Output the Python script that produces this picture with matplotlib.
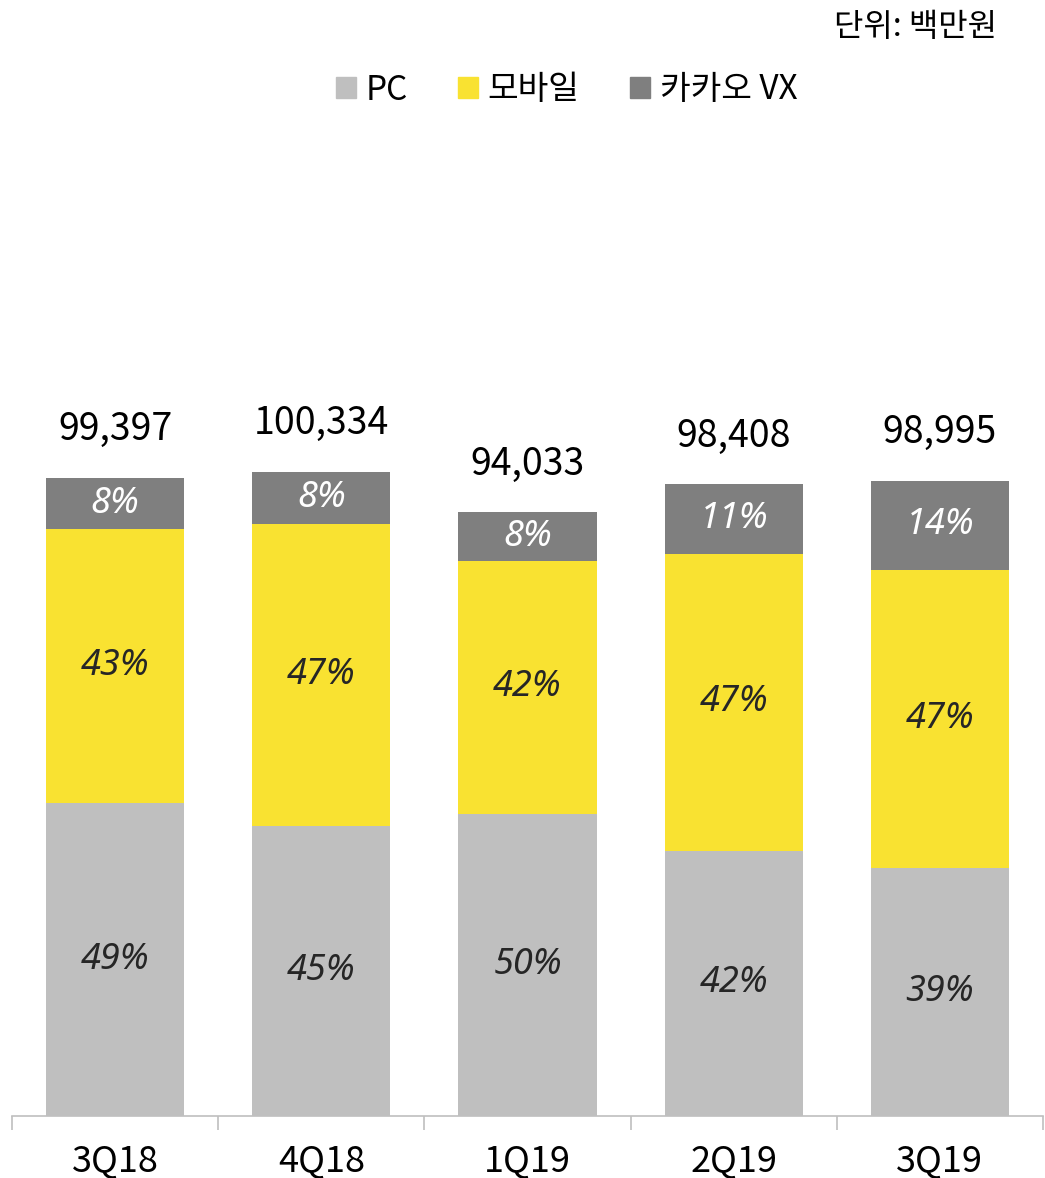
import numpy as np
import matplotlib.pyplot as plt
from matplotlib.patches import Patch

plt.rcParams['font.family'] = ['Noto Sans CJK KR', 'DejaVu Sans']

# data
quarters = ['3Q18', '4Q18', '1Q19', '2Q19', '3Q19']
totals = [99397, 100334, 94033, 98408, 98995]
pc_pct = [49, 45, 50, 42, 39]
mobile_pct = [43, 47, 42, 47, 47]
vx_pct = [8, 8, 8, 11, 14]

colors = {'PC': '#BFBFBF', '모바일': '#F9E231', '카카오 VX': '#7F7F7F'}

totals = np.array(totals)
pc = totals * np.array(pc_pct) / 100
mobile = totals * np.array(mobile_pct) / 100
vx = totals - pc - mobile

fig = plt.figure(figsize=(10.45, 11.78), dpi=100)
ax = fig.add_axes([12 / 1045, 1 - 1116 / 1178, 1031 / 1045, 1000 / 1178])

x = np.arange(len(quarters))
w = 0.67
ax.bar(x, pc, w, color=colors['PC'])
ax.bar(x, mobile, w, bottom=pc, color=colors['모바일'])
ax.bar(x, vx, w, bottom=pc + mobile, color=colors['카카오 VX'])

# percent labels
pct_font = dict(ha='center', va='center', fontsize=26, style='italic',
                fontweight='light', family=['Noto Sans', 'DejaVu Sans'])
for i in range(len(x)):
    ax.text(x[i], pc[i] / 2, f'{pc_pct[i]}%', color='#262626', **pct_font)
    ax.text(x[i], pc[i] + mobile[i] / 2, f'{mobile_pct[i]}%', color='#262626', **pct_font)
    ax.text(x[i], pc[i] + mobile[i] + vx[i] / 2, f'{vx_pct[i]}%', color='white', **pct_font)
    ax.text(x[i], totals[i] + 4500, f'{totals[i]:,}', ha='center', va='bottom',
            fontsize=27, color='black')

ax.set_xlim(-0.5, len(x) - 0.5)
ax.set_ylim(0, 155800)
ax.set_yticks([])
for s in ['top', 'right', 'left']:
    ax.spines[s].set_visible(False)
ax.spines['bottom'].set_color('#BFBFBF')
ax.spines['bottom'].set_linewidth(1.2)

ax.set_xticks(x)
ax.set_xticklabels(quarters, fontsize=26, fontweight='light')
ax.tick_params(axis='x', which='major', length=0, pad=20)
ax.set_xticks(np.arange(-0.5, len(x)), minor=True)
ax.tick_params(axis='x', which='minor', length=10, color='#BFBFBF', width=1.2)

handles = [Patch(color=c, label=k) for k, c in colors.items()]
fig.legend(handles=handles, loc='center', bbox_to_anchor=(0.542, 1 - 90 / 1178),
           ncol=3, frameon=False, fontsize=24, handlelength=0.6, handleheight=0.6,
           handletextpad=0.3, columnspacing=1.5)

fig.text(997 / 1045, 1 - 27 / 1178, '단위: 백만원', ha='right', va='center',
         fontsize=23, fontweight='light')

fig.savefig('out.png', dpi=100)
